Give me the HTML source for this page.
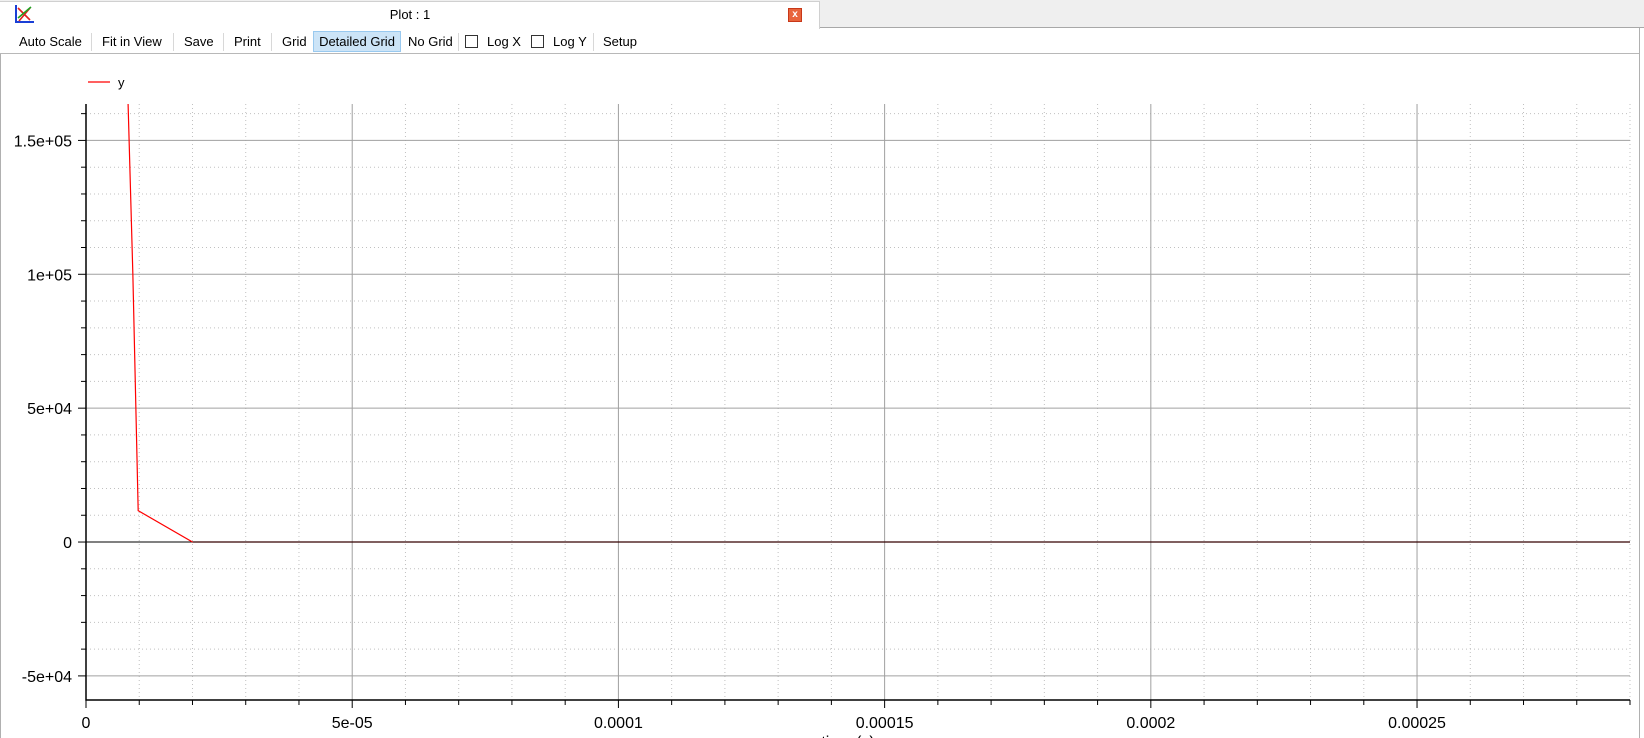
<!DOCTYPE html>
<html><head><meta charset="utf-8"><style>
body{margin:0;width:1644px;height:738px;overflow:hidden;background:#fff;font-family:"Liberation Sans",sans-serif;position:relative}
.tb{position:absolute;top:33px;font-size:13px;color:#000;line-height:18px}
.sep{position:absolute;top:33px;width:1px;height:18px;background:#d8d8d8}
.cb{position:absolute;top:35px;width:13px;height:13px;border:1px solid #333;background:#fff;box-sizing:border-box}
</style></head><body>
<div style="position:absolute;left:0;top:0;width:1644px;height:28px;background:#efefef;border-bottom:1px solid #a8a8a8;box-sizing:border-box"></div>
<div style="position:absolute;left:0;top:1px;width:820px;height:28px;background:#fff;border-right:1px solid #d0d0d0;border-top:1px solid #d0d0d0;box-sizing:border-box"></div>
<svg style="position:absolute;left:14px;top:4px" width="22" height="20"><path d="M2 1V18H20" stroke="#1a3fd6" stroke-width="2" fill="none"/><path d="M4 4L16 16M16 4L5 17" stroke="#e02020" stroke-width="1.6"/><path d="M4 14L17 3" stroke="#20a020" stroke-width="1.6"/></svg>
<div style="position:absolute;left:370px;top:7px;width:80px;text-align:center;font-size:13px">Plot : 1</div>
<div style="position:absolute;left:788px;top:8px;width:14px;height:14px;background:#e8643c;border:1px solid #c83818;box-sizing:border-box;color:#fff;font-size:10px;line-height:12px;text-align:center;font-weight:bold">x</div>
<div style="position:absolute;left:0;top:28px;width:1640px;height:26px;border-bottom:1px solid #b8b8b8;box-sizing:border-box"></div>
<div style="position:absolute;left:1639px;top:28px;width:1px;height:710px;background:#b0b0b0"></div>
<div style="position:absolute;left:0;top:54px;width:1px;height:684px;background:#b0b0b0"></div>
<div class="tb" style="left:19px">Auto Scale</div>
<div class="sep" style="left:91px"></div>
<div class="tb" style="left:102px">Fit in View</div>
<div class="sep" style="left:173px"></div>
<div class="tb" style="left:184px">Save</div>
<div class="sep" style="left:223px"></div>
<div class="tb" style="left:234px">Print</div>
<div class="sep" style="left:271px"></div>
<div class="tb" style="left:282px">Grid</div>
<div style="position:absolute;left:313px;top:31px;width:88px;height:21px;background:#cce4f7;border:1px solid #99c9ef;box-sizing:border-box;font-size:13px;line-height:19px;text-align:center">Detailed Grid</div>
<div class="tb" style="left:408px">No Grid</div>
<div class="sep" style="left:458px"></div>
<div class="cb" style="left:465px"></div>
<div class="tb" style="left:487px">Log X</div>
<div class="cb" style="left:531px"></div>
<div class="tb" style="left:553px">Log Y</div>
<div class="sep" style="left:593px"></div>
<div class="tb" style="left:603px">Setup</div>

<svg id="chart" style="position:absolute;left:0;top:55px" width="1638" height="683"></svg>
<script>
const xTicks=[0,5e-5,1e-4,1.5e-4,2e-4,2.5e-4];
const xTickLabels=["0","5e-05","0.0001","0.00015","0.0002","0.00025"];
const yTicks=[-5e4,0,5e4,1e5,1.5e5];
const yTickLabels=["-5e+04","0","5e+04","1e+05","1.5e+05"];
const seriesX=[7.5e-6,7.9e-6,8.8e-6,9.8e-6,2e-5,2.9e-4];
const seriesY=[2.0e5,1.64e5,1.0e5,1.17e4,0,0];
const xMin=0,xMax=2.9e-4,yMin=-5.9e4,yMax=1.636e5;
const OY=55;
const L=86,R=1630,T=104-OY,B=700-OY;
const sx=v=>L+(v-xMin)/(xMax-xMin)*(R-L);
const sy=v=>B-(v-yMin)/(yMax-yMin)*(B-T);
const svg=document.getElementById('chart');
const NS='http://www.w3.org/2000/svg';
function mk(t,a){const e=document.createElementNS(NS,t);for(const k in a)e.setAttribute(k,a[k]);svg.appendChild(e);return e;}
for(let i=0;i<=29;i++){const v=i*1e-5;if(i%5===0)continue;const x=sx(v);
const g=mk('line',{x1:x,x2:x,y1:T,y2:B,stroke:'#c0c0c0','stroke-dasharray':'1 3'});

const t=mk('line',{x1:x,x2:x,y1:B,y2:B+5,stroke:'#000'});
}
for(let i=-5;i<=16;i++){if(i%5===0)continue;const y=sy(i*1e4);
const g=mk('line',{x1:L,x2:R,y1:y,y2:y,stroke:'#c0c0c0','stroke-dasharray':'1 3'});

const t=mk('line',{x1:L-5,x2:L,y1:y,y2:y,stroke:'#000'});
}
xTicks.forEach((v,i)=>{const x=sx(v);
if(i>0){const g=mk('line',{x1:x,x2:x,y1:T,y2:B,stroke:'#a0a0a0'});
}
const t=mk('line',{x1:x,x2:x,y1:B,y2:B+8,stroke:'#000'});

const l=mk('text',{x:x,y:B+28,'text-anchor':'middle','font-size':'16','font-family':'Liberation Sans, sans-serif'});l.textContent=xTickLabels[i];
});
yTicks.forEach((v,i)=>{const y=sy(v);
const g=mk('line',{x1:L,x2:R,y1:y,y2:y,stroke:v===0?'#000':'#a0a0a0'});

const t=mk('line',{x1:L-8,x2:L,y1:y,y2:y,stroke:'#000'});

const l=mk('text',{x:L-14,y:y+6,'text-anchor':'end','font-size':'16','font-family':'Liberation Sans, sans-serif'});l.textContent=yTickLabels[i];
});
const ax=mk('path',{d:`M${L} ${T}V${B}H${R}`,stroke:'#000','stroke-width':1.5,fill:'none'});

const cp=mk('clipPath',{id:'c'});const cr=document.createElementNS(NS,'rect');
cr.setAttribute('x',L);cr.setAttribute('y',T);cr.setAttribute('width',R-L);cr.setAttribute('height',B-T);cp.appendChild(cr);
const pts=seriesX.map((v,i)=>sx(v)+','+sy(seriesY[i])).join(' ');
const pl=mk('polyline',{points:pts,fill:'none',stroke:'#ff0000','stroke-width':1.2,'clip-path':'url(#c)'});

const z=mk('line',{x1:sx(2e-5),x2:R,y1:sy(0),y2:sy(0),stroke:'#000'});

const lg=mk('line',{x1:88,x2:110,y1:82-OY,y2:82-OY,stroke:'#ff0000','stroke-width':1.2});

const lt=mk('text',{x:118,y:87-OY,'font-size':'13','font-family':'Liberation Sans, sans-serif'});lt.textContent='y';

const xt=mk('text',{x:848,y:B+47,'text-anchor':'middle','font-size':'16','font-family':'Liberation Sans, sans-serif'});xt.textContent='time (s)';

</script>
</body></html>
